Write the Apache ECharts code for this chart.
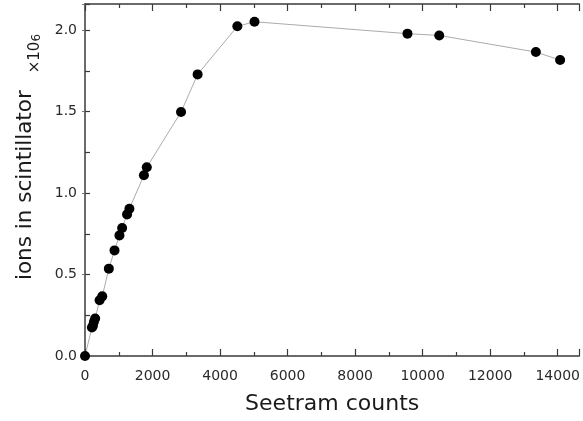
<!DOCTYPE html>
<html>
<head>
<meta charset="utf-8">
<script src="https://cdn.jsdelivr.net/npm/echarts@6/dist/echarts.min.js"></script>
<style>
html,body{margin:0;padding:0;background:#fff;}
#chart{width:583px;height:421px;}
</style>
</head>
<body>
<div id="chart"></div>
<script>
// Data
var seetramCounts = [0, 205, 235, 265, 300, 432, 511, 706, 874, 1020, 1100, 1246, 1315, 1745, 1830, 2844, 3335, 4512, 5020, 9550, 10491, 13353, 14070];
var ionsInScintillator = [0, 0.175, 0.185, 0.21, 0.23, 0.342, 0.366, 0.536, 0.648, 0.74, 0.785, 0.869, 0.904, 1.109, 1.158, 1.497, 1.728, 2.023, 2.051, 1.978, 1.967, 1.865, 1.816];
var xTickLabels = ['0', '2000', '4000', '6000', '8000', '10000', '12000', '14000'];
var yTickLabels = ['0.0', '0.5', '1.0', '1.5', '2.0'];
var xAxisTitle = 'Seetram counts';
var yAxisTitle = 'ions in scintillator';

var points = seetramCounts.map(function (x, i) { return [x, ionsInScintillator[i]]; });

var FONT = 'DejaVu Sans';
var axisColor = '#3a3a3a';
var chart = echarts.init(document.getElementById('chart'), null, {renderer: 'canvas'});

var xMin = 0, xMax = 14640, yMin = 0, yMax = 2.16;

chart.setOption({
  animation: false,
  backgroundColor: '#ffffff',
  grid: {left: 85, right: 0, top: 4, bottom: 65, containLabel: false},
  xAxis: [{
    type: 'value', min: xMin, max: xMax, interval: 2000, position: 'bottom',
    axisLine: {show: true, onZero: false, lineStyle: {color: axisColor, width: 1.5}},
    axisTick: {show: true, inside: true, length: 7, lineStyle: {color: axisColor, width: 1.2}},
    minorTick: {show: true, splitNumber: 2, length: 4, lineStyle: {color: axisColor, width: 1.2}},
    splitLine: {show: false},
    axisLabel: {
      show: true, margin: 13, showMaxLabel: false, color: '#2a2a2a', fontFamily: FONT, fontSize: 14,
      formatter: function (v) { var i = Math.round(v / 2000); return (v % 2000 === 0 && xTickLabels[i] !== undefined) ? xTickLabels[i] : ''; }
    },
    name: xAxisTitle, nameLocation: 'middle', nameGap: 37,
    nameTextStyle: {color: '#1a1a1a', fontFamily: FONT, fontSize: 22}
  }, {
    type: 'value', min: xMin, max: xMax, interval: 2000, position: 'top',
    axisLine: {show: true, onZero: false, lineStyle: {color: axisColor, width: 1.5}},
    axisTick: {show: true, inside: true, length: 7, lineStyle: {color: axisColor, width: 1.2}},
    minorTick: {show: true, splitNumber: 2, length: 4, lineStyle: {color: axisColor, width: 1.2}},
    splitLine: {show: false},
    axisLabel: {show: false}
  }],
  yAxis: [{
    type: 'value', min: yMin, max: yMax, interval: 0.5, position: 'left',
    axisLine: {show: true, onZero: false, lineStyle: {color: axisColor, width: 1.5}},
    axisTick: {show: true, inside: true, length: 5, lineStyle: {color: axisColor, width: 1.2}},
    minorTick: {show: true, splitNumber: 2, length: 5, lineStyle: {color: axisColor, width: 1.2}},
    splitLine: {show: false},
    axisLabel: {
      show: true, margin: 8, showMaxLabel: false, color: '#2a2a2a', fontFamily: FONT, fontSize: 14,
      formatter: function (v) { var i = Math.round(v / 0.5); return Math.abs(v - i * 0.5) < 1e-9 && yTickLabels[i] !== undefined ? yTickLabels[i] : ''; }
    }
  }, {
    type: 'value', min: yMin, max: yMax, interval: 0.5, position: 'right',
    axisLine: {show: false},
    axisTick: {show: true, inside: true, length: 3, lineStyle: {color: '#777', width: 1}},
    splitLine: {show: false},
    axisLabel: {show: false}
  }],
  graphic: [{
    type: 'text',
    x: 25, y: 157,
    rotation: Math.PI / 2,
    style: {
      text: '{a|' + yAxisTitle + '}{b|×10}{c|6}',
      align: 'center',
      verticalAlign: 'middle',
      fill: '#1a1a1a',
      rich: {
        a: {fontFamily: FONT, fontSize: 21.5, lineHeight: 36, verticalAlign: 'middle', fill: '#1a1a1a'},
        b: {fontFamily: FONT, fontSize: 15, lineHeight: 15, verticalAlign: 'bottom', fill: '#1a1a1a', padding: [0, 0, 0, 17]},
        c: {fontFamily: FONT, fontSize: 12, lineHeight: 25, verticalAlign: 'bottom', fill: '#1a1a1a'}
      }
    }
  }],
  series: [{
    type: 'line',
    xAxisIndex: 0, yAxisIndex: 0,
    data: points,
    symbol: 'circle',
    symbolSize: 10,
    itemStyle: {color: '#000'},
    lineStyle: {color: '#ababab', width: 1},
    z: 5
  }]
});
</script>
</body>
</html>
